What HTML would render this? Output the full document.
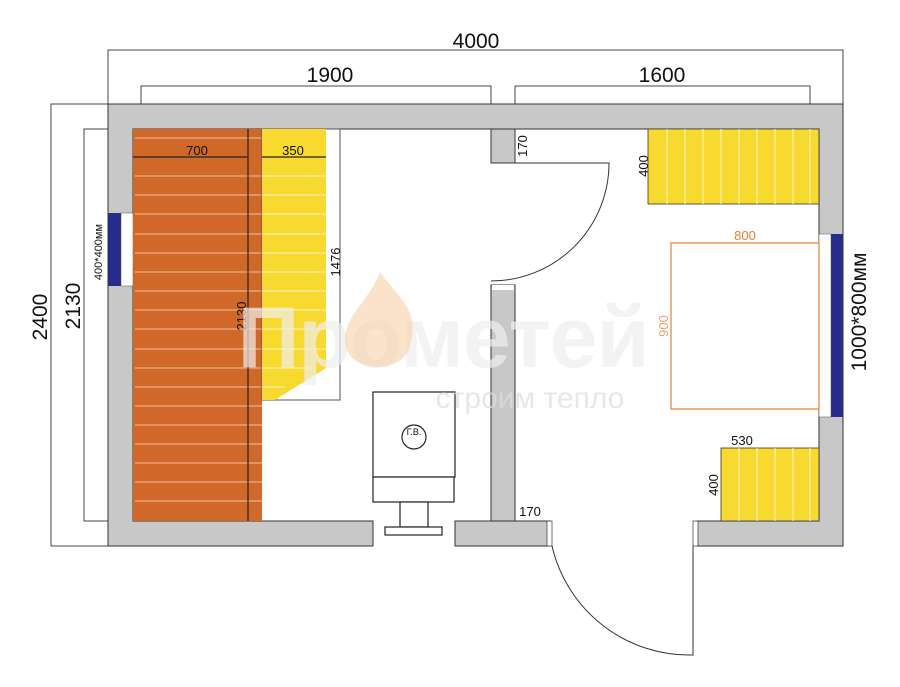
<!DOCTYPE html>
<html><head><meta charset="utf-8"><style>
html,body{margin:0;padding:0;background:#fff;}
svg{display:block;font-family:"Liberation Sans",sans-serif;}
</style></head><body>
<svg width="900" height="687" viewBox="0 0 900 687" xmlns="http://www.w3.org/2000/svg">
<g stroke="#444" stroke-width="1" fill="none">
<path d="M108,104 V50 H843 V104"/>
<path d="M141,104 V86 H491 V104"/>
<path d="M515,104 V86 H810 V104"/>
<path d="M108,104 H51 V546 H108"/>
<path d="M108,129 H84 V521 H108"/>
</g>
<g font-size="21" fill="#111" text-anchor="middle">
<text x="476" y="48">4000</text>
<text x="330" y="82">1900</text>
<text x="662" y="82">1600</text>
<text transform="translate(47,317) rotate(-90)">2400</text>
<text transform="translate(80,306) rotate(-90)">2130</text>
<text transform="translate(866,312) rotate(-90)">1000*800мм</text>
</g>
<text transform="translate(102,252) rotate(-90)" font-size="11" text-anchor="middle" fill="#111">400*400мм</text>
<path fill="#c8c8c8" stroke="#333" stroke-width="1" fill-rule="evenodd" d="M108,104 H843 V546 H697 V521 H819 V129 H133 V521 H373 V546 H108 Z"/>
<rect x="455" y="521" width="95" height="25" fill="#c8c8c8" stroke="#333"/>
<rect x="491" y="129" width="24" height="34" fill="#c8c8c8" stroke="#333"/>
<rect x="491" y="285" width="24" height="236" fill="#c8c8c8" stroke="#333"/>
<rect x="492" y="285" width="22" height="5" fill="#fff"/>
<rect x="108" y="213" width="13" height="73" fill="#262d8a"/>
<rect x="121" y="213" width="12" height="73" fill="#fff" stroke="#555" stroke-width=".5"/>
<rect x="831" y="234" width="12" height="183" fill="#262d8a"/>
<rect x="819" y="234" width="12" height="183" fill="#fff" stroke="#555" stroke-width=".5"/>
<rect x="547" y="521" width="5" height="25" fill="#fff" stroke="#333" stroke-width=".7"/>
<rect x="693" y="521" width="5" height="25" fill="#fff" stroke="#333" stroke-width=".7"/>
<g stroke="#333" fill="none" stroke-width="1">
<path d="M491,163 H609 A118,118 0 0 1 491,281"/>
<path d="M693,546 V655 A141,141 0 0 1 552,546"/>
</g>
<rect x="133" y="129" width="129" height="392" fill="#cf6829"/>
<g stroke="#f0c0a0" stroke-width="1">
<path d="M135,138H262M135,176H262M135,195H262M135,214H262M135,234H262M135,253H262M135,272H262M135,291H262M135,310H262M135,329H262M135,349H262M135,368H262M135,387H262M135,406H262M135,425H262M135,444H262M135,463H262M135,482H262M135,501H262"/>
</g>
<path d="M248,129V521M133,157H248" stroke="#222" stroke-width="1.2"/>
<rect x="262" y="129" width="78" height="271" fill="#fff" stroke="#555" stroke-width="1"/>
<path d="M262,129H326V368L275,400H262Z" fill="#f7d92f"/>
<g stroke="#fff6c8" stroke-width="1"><path d="M262,176H326M262,195H326M262,214H326M262,234H326M262,253H326M262,272H326M262,291H326M262,310H326M262,329H326M262,349H326M262,368H310M262,387H285"/></g>
<path d="M262,157H326" stroke="#222" stroke-width="1.2"/>
<g font-size="13" fill="#111" text-anchor="middle">
<text x="197" y="155">700</text>
<text x="293" y="155">350</text>
<text transform="translate(340,262) rotate(-90)">1476</text>
<text transform="translate(246,316) rotate(-90)">2130</text>
<text transform="translate(527,146) rotate(-90)">170</text>
<text x="530" y="516">170</text>
<text x="735" y="202">926</text>
<text transform="translate(648,166) rotate(-90)">400</text>
<text x="742" y="445">530</text>
<text transform="translate(718,485) rotate(-90)">400</text>
</g>
<g stroke="#222" fill="#fff" stroke-width="1.2">
<rect x="373" y="392" width="82" height="85"/>
<rect x="373" y="477" width="81" height="25"/>
<rect x="400" y="502" width="28" height="25"/>
<rect x="385" y="527" width="57" height="8"/>
<circle cx="414" cy="437" r="12"/>
</g>
<text x="414" y="435" font-size="9" text-anchor="middle" fill="#111">Г.В.</text>
<rect x="648" y="129" width="171" height="75" fill="#f7d92f" stroke="#333" stroke-width=".8"/>
<g stroke="#fff6c8"><path d="M667,129V204M685,129V204M703,129V204M721,129V204M739,129V204M757,129V204M775,129V204M793,129V204M810,129V204"/></g>
<rect x="721" y="448" width="98" height="73" fill="#f7d92f" stroke="#333" stroke-width=".8"/>
<g stroke="#fff6c8"><path d="M739,448V521M757,448V521M775,448V521M793,448V521M810,448V521"/></g>
<rect x="671" y="243" width="148" height="166" fill="none" stroke="#e67f3c" stroke-width="1.2"/>
<text x="745" y="240" font-size="13" fill="#e67f3c" text-anchor="middle">800</text>
<text transform="translate(668,326) rotate(-90)" font-size="13" fill="#e9a070" text-anchor="middle">900</text>
<text x="443" y="367" font-size="86" fill="#eeeeee" fill-opacity=".7" text-anchor="middle" font-weight="bold" letter-spacing="-1">Прометей</text>
<path d="M380,272 C400,300 420,310 410,345 C405,375 345,375 345,340 C345,315 370,300 380,272 Z" fill="#f8cba0" fill-opacity=".55"/>
<text x="530" y="408" font-size="30" fill="#ddd" fill-opacity=".7" text-anchor="middle">строим тепло</text>
</svg>
</body></html>
